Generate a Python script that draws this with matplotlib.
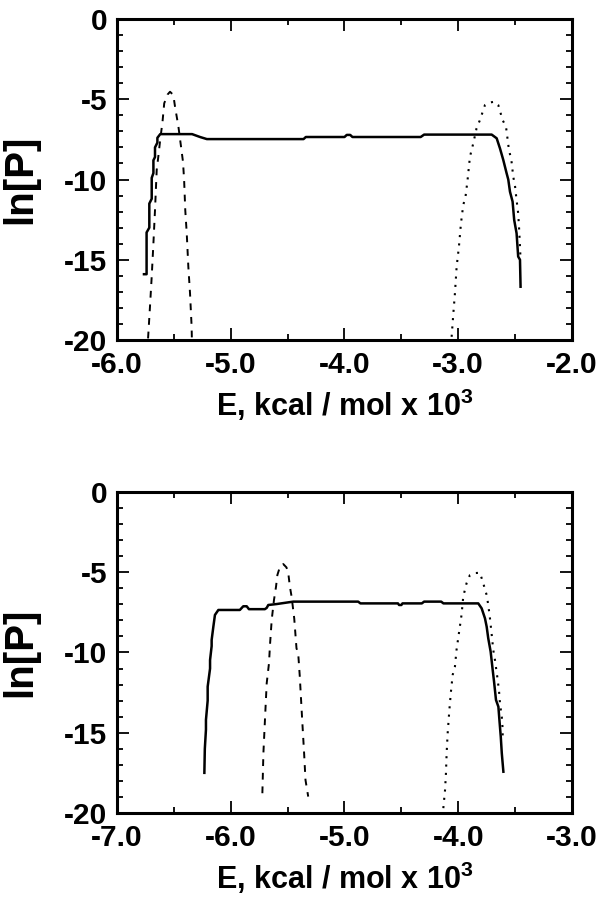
import numpy as np
import matplotlib
matplotlib.use('Agg')
import matplotlib.pyplot as plt
from matplotlib.ticker import MultipleLocator, FormatStrFormatter

plt.rcParams['font.family'] = ['Liberation Sans', 'DejaVu Sans']
plt.rcParams['font.weight'] = 'bold'
plt.rcParams['mathtext.fontset'] = 'custom'
plt.rcParams['mathtext.rm'] = 'Liberation Sans:bold'
plt.rcParams['mathtext.default'] = 'rm'
plt.rcParams['axes.unicode_minus'] = False  # hifen simples como no original

# painel de cima: energia (x 10^3 kcal/mol) e ln[P]
top_solid_E = [-5.763, -5.74, -5.74, -5.716, -5.716, -5.695, -5.695, -5.68, -5.68, -5.666, -5.666,
               -5.645, -5.645, -5.62, -5.34, -5.27, -5.21, -4.36, -4.34, -4.0, -3.98, -3.95, -3.93,
               -3.33, -3.30, -2.706, -2.662, -2.633, -2.604, -2.575, -2.56, -2.545, -2.522, -2.508,
               -2.487, -2.473, -2.457, -2.452]
top_solid_lnP = [-15.9, -15.9, -13.3, -13.0, -11.5, -11.2, -9.9, -9.6, -8.8, -8.6, -8.0,
                 -7.7, -7.4, -7.17, -7.17, -7.35, -7.48, -7.48, -7.35, -7.35, -7.22, -7.22, -7.35,
                 -7.35, -7.2, -7.2, -7.43, -8.06, -8.78, -9.6, -10.0, -10.76, -11.38, -12.52,
                 -13.35, -14.8, -15.0, -16.68]

top_dash_E = [-5.727, -5.71, -5.695, -5.68, -5.666, -5.651, -5.637, -5.62, -5.6, -5.585, -5.555,
              -5.534, -5.505, -5.49, -5.46, -5.437, -5.42, -5.41, -5.40, -5.387, -5.373, -5.358,
              -5.344, -5.342]
top_dash_lnP = [-19.9, -17.9, -16.05, -13.98, -11.9, -9.4, -8.58, -7.5, -6.4, -5.25, -4.7,
                -4.53, -4.73, -5.46, -6.71, -7.96, -8.89, -10.03, -11.9, -13.35, -15.43, -17.1,
                -19.17, -19.9]

top_dot_E = [-3.058, -3.043, -3.029, -3.014, -2.994, -2.976, -2.956, -2.936, -2.918, -2.897,
             -2.868, -2.839, -2.809, -2.765, -2.72, -2.683, -2.648, -2.61, -2.58, -2.554,
             -2.533, -2.516, -2.5, -2.487, -2.473, -2.464, -2.457, -2.452]
top_dot_lnP = [-19.8, -18.34, -17.09, -15.43, -14.19, -12.73, -11.59, -11.07, -10.03, -8.58,
               -7.75, -6.81, -6.29, -5.36, -5.2, -5.15, -5.36, -6.29, -6.71, -8.16,
               -8.78, -9.83, -10.45, -11.28, -12.1, -13.15, -14.19, -15.0]

# painel de baixo
bot_solid_E = [-6.232, -6.228, -6.218, -6.218, -6.203, -6.203, -6.182, -6.182, -6.168, -6.168,
               -6.153, -6.139, -6.109, -5.92, -5.89, -5.86, -5.84, -5.70, -5.684, -5.67, -5.596,
               -5.45, -4.88, -4.86, -4.53, -4.52, -4.50, -4.49, -4.32, -4.30, -4.15, -4.13,
               -3.824, -3.794, -3.765, -3.75, -3.736, -3.715, -3.697, -3.685, -3.668, -3.647,
               -3.638, -3.626, -3.617, -3.603]
bot_solid_lnP = [-17.5, -16.0, -14.8, -14.2, -13.0, -12.13, -11.0, -10.47, -9.6, -9.22,
                 -8.39, -7.66, -7.35, -7.35, -7.12, -7.12, -7.3, -7.3, -7.22, -7.04, -6.98,
                 -6.83, -6.83, -6.94, -6.94, -7.04, -7.04, -6.94, -6.94, -6.83, -6.83, -6.94,
                 -6.94, -7.25, -7.87, -8.39, -9.12, -9.95, -11.09, -11.82, -12.96, -13.38,
                 -14.2, -15.25, -16.28, -17.43]

bot_dash_E = [-5.722, -5.713, -5.698, -5.684, -5.664, -5.655, -5.64, -5.62, -5.602, -5.59, -5.565,
              -5.538, -5.51, -5.494, -5.48, -5.465, -5.442, -5.422, -5.407, -5.393, -5.372,
              -5.355, -5.343, -5.319]
bot_dash_lnP = [-18.77, -16.28, -14.0, -11.92, -10.68, -9.53, -7.97, -6.73, -5.9, -5.17, -4.6,
                -4.49, -4.7, -5.07, -5.9, -6.52, -7.87, -9.74, -10.05, -11.5, -14.2,
                -16.28, -17.94, -18.98]

bot_dot_E = [-4.131, -4.116, -4.108, -4.102, -4.093, -4.078, -4.064, -4.049, -4.029, -4.015,
             -3.992, -3.971, -3.956, -3.927, -3.897, -3.85, -3.809, -3.78, -3.75, -3.736,
             -3.721, -3.707, -3.692, -3.677, -3.657, -3.642, -3.633, -3.617, -3.611, -3.608]
bot_dot_lnP = [-19.7, -18.57, -17.53, -16.28, -15.04, -13.58, -12.44, -11.4, -10.88, -9.84,
               -8.7, -7.66, -6.52, -5.69, -5.17, -5.05, -5.03, -5.69, -6.42, -7.04,
               -7.87, -8.8, -9.84, -10.47, -11.5, -12.34, -13.17, -14.0, -14.62, -15.45]

xlabel = r'E, kcal / mol x 10$^3$'
ylabel = 'ln[P]'

fig = plt.figure(figsize=(6.01, 8.99), dpi=100)
ax1 = fig.add_axes([0.1947, 0.6218, 0.757, 0.357])
ax2 = fig.add_axes([0.1947, 0.0957, 0.757, 0.357])


def estilo(ax, xmin, xmax):
    ax.set_xlim(xmin, xmax)
    ax.set_ylim(-20, 0)
    ax.xaxis.set_major_locator(MultipleLocator(1.0))
    ax.xaxis.set_minor_locator(MultipleLocator(0.5))
    ax.yaxis.set_major_locator(MultipleLocator(5))
    ax.yaxis.set_minor_locator(MultipleLocator(1))
    ax.xaxis.set_major_formatter(FormatStrFormatter('%.1f'))
    ax.tick_params(which='both', direction='in', top=True, right=True, width=1.3)
    ax.tick_params(which='major', length=8.6)
    ax.tick_params(which='minor', length=4)
    ax.tick_params(axis='x', pad=8, labelsize=21.5)
    ax.tick_params(axis='y', pad=7, labelsize=21.5)
    for s in ax.spines.values():
        s.set_linewidth(2.2)
    ax.set_xlabel(xlabel, fontsize=22, fontweight='bold', va='top')
    ax.xaxis.set_label_coords(0.5, -0.145)
    ax.set_ylabel(ylabel, fontsize=29, fontweight='bold')
    ax.yaxis.set_label_coords(-0.17, 0.5)


ax1.plot(top_solid_E, top_solid_lnP, 'k-', linewidth=1.8)
ax1.plot(top_dash_E, top_dash_lnP, color='k', linestyle=(0, (3.5, 3.5)), linewidth=1.4)
ax1.plot(top_dot_E, top_dot_lnP, color='k', linestyle=(0, (1, 3)), linewidth=1.5)
estilo(ax1, -6.0, -2.0)

ax2.plot(bot_solid_E, bot_solid_lnP, 'k-', linewidth=1.8)
ax2.plot(bot_dash_E, bot_dash_lnP, color='k', linestyle=(0, (3.5, 3.5)), linewidth=1.4)
ax2.plot(bot_dot_E, bot_dot_lnP, color='k', linestyle=(0, (1, 3)), linewidth=1.5)
estilo(ax2, -7.0, -3.0)

fig.savefig('out.png', dpi=100)
